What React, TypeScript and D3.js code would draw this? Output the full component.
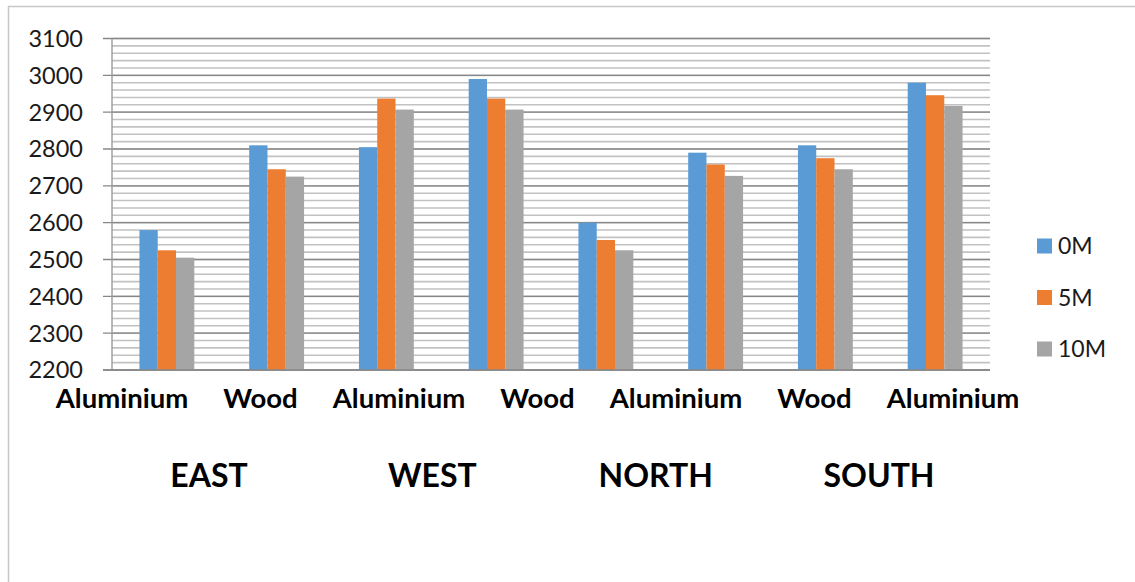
import React from "react";
import * as d3 from "d3";

const categories = ["East-Aluminium", "East-Wood", "West-Aluminium", "West-Wood", "North-Aluminium", "North-Wood", "South-Wood", "South-Aluminium"];
const seriesNames = ["0M", "5M", "10M"];
const values0M = [2580, 2810, 2805, 2990, 2600, 2790, 2810, 2980];
const values5M = [2525, 2745, 2937, 2937, 2553, 2758, 2775, 2946];
const values10M = [2505, 2725, 2907, 2907, 2525, 2727, 2745, 2917];
const axisLabels = ["Aluminium", "Wood", "Aluminium", "Wood", "Aluminium", "Wood", "Aluminium"];
const groupLabels = ["EAST", "WEST", "NORTH", "SOUTH"];
const colors = ["#5B9BD5", "#ED7D31", "#A5A5A5"];

const W = 1135;
const H = 582;
const left = 112;
const right = 990;
const top = 38.5;
const bottom = 370;
const FONT = "Lato, 'Open Sans', sans-serif";

export default function App() {
  const seriesValues = [values0M, values5M, values10M];
  const y = d3.scaleLinear().domain([2200, 3100]).range([bottom, top]);
  const x = d3.scaleBand<string>().domain(categories).range([left, right]).paddingInner(0.5).paddingOuter(0.25);
  const xs = d3.scaleBand<string>().domain(seriesNames).range([0, x.bandwidth()]);
  const labelX = d3.scalePoint<string>().domain(axisLabels.map((_, i) => String(i))).range([122, 953]);
  const groupX = d3.scalePoint<string>().domain(groupLabels).range([209, 879]);
  const minor = y.ticks(45);
  const major = y.ticks(9);

  return (
    <svg width={W} height={H} style={{ position: "absolute", left: 0, top: 0, background: "#fff" }}>
      <rect x={0} y={0} width={W} height={H} fill="#fff" />
      <line x1={8.5} x2={8.5} y1={6} y2={H} stroke="#c8c8c8" strokeWidth={1.5} />
      <line x1={8} x2={W} y1={6.5} y2={6.5} stroke="#c8c8c8" strokeWidth={1.5} />
      {minor.map((t) => (
        <line key={"m" + t} x1={left} x2={right} y1={y(t)} y2={y(t)} stroke="#c2c2c2" strokeWidth={1.6} />
      ))}
      {major.map((t) => (
        <line key={"M" + t} x1={left - 9} x2={right} y1={y(t)} y2={y(t)} stroke="#878787" strokeWidth={1.4} />
      ))}
      <line x1={left} x2={left} y1={top} y2={bottom} stroke="#9a9a9a" strokeWidth={1.4} />
      {categories.map((c, i) => (
        <g key={c} transform={`translate(${x(c)},0)`}>
          {seriesNames.map((s, j) => (
            <rect key={s} x={xs(s)} y={y(seriesValues[j][i])} width={xs.bandwidth()} height={bottom - y(seriesValues[j][i])} fill={colors[j]} />
          ))}
        </g>
      ))}
      <line x1={left - 9} x2={right} y1={bottom} y2={bottom} stroke="#878787" strokeWidth={1.4} />
      {major.map((t) => (
        <text key={"t" + t} x={83} y={y(t)} dy="0.36em" textAnchor="end" fontFamily={FONT} fontSize={23.5} fill="#1a1a1a">
          {t}
        </text>
      ))}
      {axisLabels.map((l, i) => (
        <text key={"l" + i} x={labelX(String(i))} y={408} textAnchor="middle" fontFamily={FONT} fontWeight={700} fontSize={27.5} fill="#000">
          {l}
        </text>
      ))}
      {groupLabels.map((g) => (
        <text key={g} x={groupX(g)} y={487} textAnchor="middle" fontFamily={FONT} fontWeight={700} fontSize={32} fill="#000">
          {g}
        </text>
      ))}
      {seriesNames.map((s, j) => (
        <g key={"lg" + s} transform={`translate(1037,${246 + j * 51.5})`}>
          <rect x={0} y={-7.5} width={15} height={15} fill={colors[j]} />
          <text x={21} y={0} dy="0.36em" fontFamily={FONT} fontSize={23} fill="#1a1a1a">
            {s}
          </text>
        </g>
      ))}
    </svg>
  );
}
